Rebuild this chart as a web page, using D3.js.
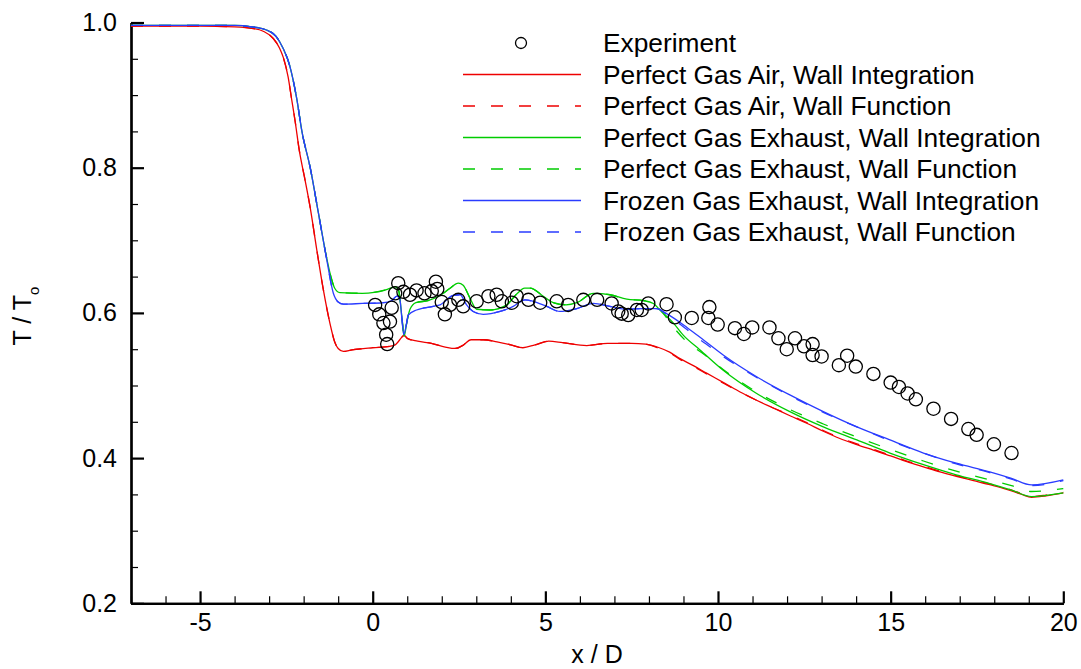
<!DOCTYPE html>
<html>
<head>
<meta charset="utf-8">
<script src="https://cdn.jsdelivr.net/npm/d3@7"></script>
<style>
  html, body { margin: 0; padding: 0; background: #fff; }
  svg { display: block; font-family: "Liberation Sans", Arial, Helvetica, sans-serif; }
</style>
</head>
<body>
<svg id="chart" width="1081" height="669"></svg>
<script>
// ---------------- data ----------------
const xTicks = [-5, 0, 5, 10, 15, 20];
const yTicks = [0.2, 0.4, 0.6, 0.8, 1.0];

const experiment = [
  [0.07,0.611],[0.19,0.598],[0.31,0.586],[0.39,0.570],[0.42,0.557],[0.50,0.588],[0.55,0.607],
  [0.65,0.627],[0.74,0.641],[0.89,0.629],[1.08,0.625],[1.27,0.631],[1.50,0.627],[1.71,0.630],
  [1.83,0.643],[1.87,0.633],[2.00,0.615],[2.09,0.598],[2.24,0.611],[2.48,0.618],[2.62,0.609],
  [3.01,0.616],[3.35,0.623],[3.59,0.625],[3.74,0.616],[4.03,0.614],[4.17,0.623],[4.51,0.618],
  [4.85,0.614],[5.33,0.616],[5.66,0.611],[6.10,0.618],[6.50,0.618],[6.92,0.613],[7.11,0.602],
  [7.21,0.599],[7.40,0.597],[7.65,0.604],[7.79,0.604],[7.98,0.613],[8.51,0.612],[8.75,0.594],
  [9.24,0.593],[9.72,0.593],[9.75,0.608],[9.99,0.584],[10.49,0.579],[10.75,0.571],[10.99,0.580],
  [11.49,0.580],[11.75,0.565],[11.99,0.550],[12.23,0.565],[12.49,0.554],[12.74,0.557],[12.74,0.542],
  [13.00,0.540],[13.50,0.528],[13.74,0.541],[13.99,0.526],[14.50,0.516],[15.00,0.504],[15.24,0.498],
  [15.49,0.489],[15.73,0.481],[16.24,0.468],[16.75,0.454],[17.25,0.440],[17.49,0.432],[17.99,0.419],
  [18.50,0.407]
];

const airWallIntegration = [
  [-7,0.995],[-5,0.995],[-4,0.994],[-3.5,0.992],[-3.17,0.988],[-2.88,0.978],[-2.7,0.965],[-2.59,0.952],
  [-2.45,0.925],[-2.35,0.895],[-2.25,0.865],[-2.12,0.822],[-1.98,0.788],[-1.81,0.745],[-1.62,0.687],
  [-1.43,0.632],[-1.24,0.586],[-1.1,0.560],[-1.0,0.551],[-0.85,0.547],[-0.6,0.549],[0,0.552],
  [0.5,0.554],[0.65,0.556],[0.75,0.561],[0.85,0.567],[0.91,0.569],[1.0,0.565],[1.3,0.561],
  [1.7,0.558],[2.1,0.553],[2.4,0.551],[2.6,0.555],[2.85,0.563],[3.2,0.563],[3.6,0.560],[4.0,0.556],
  [4.35,0.552],[4.7,0.556],[5.1,0.561],[5.5,0.559],[6.2,0.555],[6.8,0.558],[7.5,0.558],[7.9,0.557],
  [8.3,0.552],[8.6,0.546],[8.9,0.537],[9.3,0.527],[9.67,0.517],[10.2,0.503],[10.64,0.491],[11.1,0.480],
  [11.6,0.469],[12.1,0.458],[12.57,0.448],[13.05,0.437],[13.53,0.427],[14.0,0.419],[14.5,0.411],
  [15.0,0.403],[15.47,0.395],[15.95,0.388],[16.43,0.381],[16.9,0.375],[17.4,0.369],[17.9,0.363],
  [18.36,0.357],[18.8,0.350],[19.08,0.346],[19.5,0.348],[20,0.352]
];

const airWallFunction = [
  [-7,0.995],[-5,0.995],[-4,0.994],[-3.5,0.992],[-3.17,0.988],[-2.88,0.978],[-2.7,0.965],[-2.59,0.952],
  [-2.45,0.925],[-2.35,0.895],[-2.25,0.865],[-2.12,0.822],[-1.98,0.788],[-1.81,0.745],[-1.62,0.687],
  [-1.43,0.632],[-1.24,0.586],[-1.1,0.560],[-1.0,0.551],[-0.85,0.547],[-0.6,0.549],[0,0.552],
  [0.5,0.554],[0.65,0.556],[0.75,0.561],[0.85,0.567],[0.91,0.569],[1.0,0.565],[1.3,0.561],
  [1.7,0.558],[2.1,0.553],[2.4,0.551],[2.6,0.555],[2.85,0.563],[3.2,0.563],[3.6,0.560],[4.0,0.556],
  [4.35,0.552],[4.7,0.556],[5.1,0.561],[5.5,0.559],[6.2,0.555],[6.8,0.558],[7.5,0.558],[7.9,0.557],
  [8.3,0.551],[8.6,0.545],[8.9,0.536],[9.3,0.526],[9.67,0.516],[10.2,0.502],[10.64,0.491],[11.1,0.480],
  [11.6,0.469],[12.1,0.459],[12.57,0.449],[13.05,0.438],[13.53,0.428],[14.0,0.420],[14.5,0.412],
  [15.0,0.404],[15.47,0.396],[15.95,0.389],[16.43,0.382],[16.9,0.376],[17.4,0.370],[17.9,0.364],
  [18.36,0.358],[18.8,0.351],[19.08,0.347],[19.5,0.349],[20,0.353]
];

const exhaustWallIntegration = [
  [-7,0.996],[-4,0.996],[-3.5,0.994],[-3.1,0.990],[-2.8,0.981],[-2.6,0.965],[-2.4,0.940],[-2.2,0.895],
  [-2.05,0.850],[-1.81,0.800],[-1.57,0.737],[-1.33,0.675],[-1.2,0.648],[-1.1,0.634],[-0.95,0.628],
  [-0.3,0.627],[0.4,0.632],[0.65,0.636],[0.75,0.631],[0.85,0.592],[0.91,0.568],[0.98,0.585],
  [1.08,0.605],[1.25,0.614],[1.6,0.617],[1.95,0.624],[2.24,0.634],[2.48,0.641],[2.62,0.638],
  [2.82,0.620],[3.01,0.605],[3.4,0.604],[3.88,0.611],[4.17,0.626],[4.4,0.634],[4.56,0.634],
  [4.94,0.623],[5.23,0.614],[5.6,0.611],[5.91,0.614],[6.39,0.627],[6.87,0.625],[7.36,0.619],
  [7.84,0.617],[8.13,0.613],[8.32,0.604],[8.71,0.586],[9.0,0.569],[9.48,0.549],[10.15,0.521],
  [11.12,0.489],[12.08,0.464],[13.05,0.443],[14.02,0.425],[14.98,0.407],[15.95,0.391],[16.9,0.377],
  [17.87,0.365],[18.5,0.356],[19.08,0.347],[20,0.352]
];

const exhaustWallFunction = [
  [-7,0.996],[-4,0.996],[-3.5,0.994],[-3.1,0.990],[-2.8,0.981],[-2.6,0.965],[-2.4,0.940],[-2.2,0.895],
  [-2.05,0.850],[-1.81,0.800],[-1.57,0.737],[-1.33,0.675],[-1.2,0.648],[-1.1,0.634],[-0.95,0.628],
  [-0.3,0.627],[0.4,0.632],[0.65,0.636],[0.75,0.631],[0.85,0.592],[0.91,0.568],[0.98,0.585],
  [1.08,0.605],[1.25,0.614],[1.6,0.617],[1.95,0.624],[2.24,0.634],[2.48,0.641],[2.62,0.638],
  [2.82,0.620],[3.01,0.605],[3.4,0.604],[3.88,0.611],[4.17,0.626],[4.4,0.634],[4.56,0.634],
  [4.94,0.623],[5.23,0.614],[5.6,0.611],[5.91,0.614],[6.39,0.627],[6.87,0.625],[7.36,0.619],
  [7.84,0.617],[8.13,0.613],[8.4,0.600],[8.75,0.578],[9.1,0.560],[9.62,0.542],[10.15,0.522],
  [11.12,0.491],[12.08,0.467],[13.05,0.447],[14.02,0.429],[14.98,0.412],[15.95,0.396],[16.9,0.382],
  [17.87,0.370],[18.5,0.362],[19.08,0.354],[20,0.358]
];

const frozenWallIntegration = [
  [-7,0.996],[-4,0.996],[-3.5,0.994],[-3.1,0.990],[-2.8,0.981],[-2.6,0.965],[-2.4,0.940],[-2.2,0.895],
  [-2.05,0.850],[-1.81,0.800],[-1.57,0.737],[-1.33,0.673],[-1.14,0.627],[-1.0,0.615],[-0.85,0.612],
  [-0.3,0.613],[0.3,0.614],[0.55,0.617],[0.7,0.623],[0.78,0.620],[0.85,0.590],[0.90,0.570],
  [0.96,0.580],[1.03,0.597],[1.27,0.604],[1.75,0.609],[1.95,0.611],[2.33,0.624],[2.53,0.625],
  [2.72,0.611],[2.91,0.602],[3.2,0.598],[3.69,0.602],[4.07,0.609],[4.41,0.618],[4.65,0.616],
  [5.04,0.609],[5.42,0.602],[5.91,0.606],[6.39,0.613],[6.87,0.609],[7.36,0.605],[7.84,0.606],
  [8.22,0.606],[8.51,0.599],[9.1,0.580],[9.6,0.562],[10.15,0.542],[11.12,0.512],[12.08,0.487],
  [13.05,0.464],[14.02,0.443],[14.98,0.425],[15.95,0.407],[16.9,0.393],[17.87,0.381],[18.5,0.372],
  [19.08,0.363],[20,0.370]
];

const frozenWallFunction = [
  [-7,0.996],[-4,0.996],[-3.5,0.994],[-3.1,0.990],[-2.8,0.981],[-2.6,0.965],[-2.4,0.940],[-2.2,0.895],
  [-2.05,0.850],[-1.81,0.800],[-1.57,0.737],[-1.33,0.673],[-1.14,0.627],[-1.0,0.615],[-0.85,0.612],
  [-0.3,0.613],[0.3,0.614],[0.55,0.617],[0.7,0.623],[0.78,0.620],[0.85,0.590],[0.90,0.570],
  [0.96,0.580],[1.03,0.597],[1.27,0.604],[1.75,0.609],[1.95,0.611],[2.33,0.624],[2.53,0.625],
  [2.72,0.611],[2.91,0.602],[3.2,0.598],[3.69,0.602],[4.07,0.609],[4.41,0.618],[4.65,0.616],
  [5.04,0.609],[5.42,0.602],[5.91,0.606],[6.39,0.613],[6.87,0.609],[7.36,0.605],[7.84,0.606],
  [8.22,0.606],[8.51,0.598],[9.1,0.577],[9.6,0.559],[10.15,0.540],[11.12,0.511],[12.08,0.486],
  [13.05,0.463],[14.02,0.443],[14.98,0.424],[15.95,0.407],[16.9,0.392],[17.87,0.380],[18.5,0.371],
  [19.08,0.362],[20,0.369]
];

const seriesNames = [
  "Perfect Gas Air, Wall Integration",
  "Perfect Gas Air, Wall Function",
  "Perfect Gas Exhaust, Wall Integration",
  "Perfect Gas Exhaust, Wall Function",
  "Frozen Gas Exhaust, Wall Integration",
  "Frozen Gas Exhaust, Wall Function"
];
const seriesData = [airWallIntegration, airWallFunction, exhaustWallIntegration,
                    exhaustWallFunction, frozenWallIntegration, frozenWallFunction];
const seriesColors = ["#ee0000", "#ee0000", "#00cc00", "#00cc00", "#2a3cff", "#2a3cff"];
const seriesDashed = [false, true, false, true, false, true];

// ---------------- chart ----------------
const svg = d3.select("#chart");
const FONT = "'Liberation Sans', Arial, Helvetica, sans-serif";
const FS = 25;
const LEG_FS = 26.3;

const x = d3.scaleLinear().domain([-7, 20]).range([131, 1063.3]);
const y = d3.scaleLinear().domain([0.2, 1.0]).range([603.3, 22.5]);

// minor ticks
const xMinor = d3.range(-7, 20.001, 1).filter(v => xTicks.indexOf(v) < 0);
const yMinor = d3.range(0.2, 1.0001, 0.05).map(v => +v.toFixed(2)).filter(v => yTicks.indexOf(v) < 0);

const gxMinor = svg.append("g").attr("transform", "translate(0,603.3)")
  .call(d3.axisBottom(x).tickValues(xMinor).tickSize(-7).tickSizeOuter(0).tickFormat(""));
const gyMinor = svg.append("g").attr("transform", "translate(131,0)")
  .call(d3.axisLeft(y).tickValues(yMinor).tickSize(-7).tickSizeOuter(0).tickFormat(""));

const gx = svg.append("g").attr("transform", "translate(0,603.3)")
  .call(d3.axisBottom(x).tickValues(xTicks).tickSize(-12).tickSizeOuter(0).tickPadding(10)
    .tickFormat(d => String(d)));
const gy = svg.append("g").attr("transform", "translate(131,0)")
  .call(d3.axisLeft(y).tickValues(yTicks).tickSize(-13).tickSizeOuter(0).tickPadding(14)
    .tickFormat(d => d.toFixed(1)));

[gxMinor, gyMinor, gx, gy].forEach(g => {
  g.selectAll("path.domain").attr("stroke", "#000").attr("stroke-width", 2.2);
  g.selectAll(".tick line").attr("stroke", "#000");
  g.selectAll(".tick text").attr("fill", "#000").style("font-family", FONT).style("font-size", FS + "px");
});
gx.selectAll(".tick line").attr("stroke-width", 2.2);
gy.selectAll(".tick line").attr("stroke-width", 2.2);
gxMinor.selectAll(".tick line").attr("stroke-width", 1.2);
gyMinor.selectAll(".tick line").attr("stroke-width", 1.2);

// lines
const line = d3.line().x(d => x(d[0])).y(d => y(d[1])).curve(d3.curveMonotoneX);
const plot = svg.append("g");
seriesData.forEach((data, i) => {
  plot.append("path")
    .datum(data)
    .attr("d", line)
    .attr("fill", "none")
    .attr("stroke", seriesColors[i])
    .attr("stroke-width", 1.3)
    .attr("stroke-dasharray", seriesDashed[i] ? "12,16" : null);
});

// experiment symbols
plot.selectAll("circle.exp").data(experiment).enter().append("circle")
  .attr("class", "exp")
  .attr("cx", d => x(d[0])).attr("cy", d => y(d[1])).attr("r", 6.6)
  .attr("fill", "none").attr("stroke", "#000").attr("stroke-width", 1.3);

// legend
const leg = svg.append("g");
const rowY = i => 43 + i * 31.5;
leg.append("circle").attr("cx", 521).attr("cy", rowY(0)).attr("r", 5.5)
  .attr("fill", "none").attr("stroke", "#000").attr("stroke-width", 1.3);
leg.append("text").attr("x", 603).attr("y", rowY(0)).attr("dy", "0.35em")
  .style("font-family", FONT).style("font-size", LEG_FS + "px").text("Experiment");
seriesNames.forEach((name, i) => {
  const yy = rowY(i + 1);
  leg.append("line").attr("x1", 463).attr("x2", 581).attr("y1", yy).attr("y2", yy)
    .attr("stroke", seriesColors[i]).attr("stroke-width", 1.3)
    .attr("stroke-dasharray", seriesDashed[i] ? "12,16" : null);
  leg.append("text").attr("x", 603).attr("y", yy).attr("dy", "0.35em")
    .style("font-family", FONT).style("font-size", LEG_FS + "px").text(name);
});

// axis titles
svg.append("text").attr("x", 597).attr("y", 663).attr("text-anchor", "middle")
  .style("font-family", FONT).style("font-size", FS + "px").text("x / D");

const yt = svg.append("text").attr("transform", "translate(31,316) rotate(-90)")
  .attr("text-anchor", "middle")
  .style("font-family", FONT).style("font-size", FS + "px");
yt.append("tspan").text("T / T");
yt.append("tspan").attr("dy", 8).style("font-size", "15px").text("o");
</script>
</body>
</html>
